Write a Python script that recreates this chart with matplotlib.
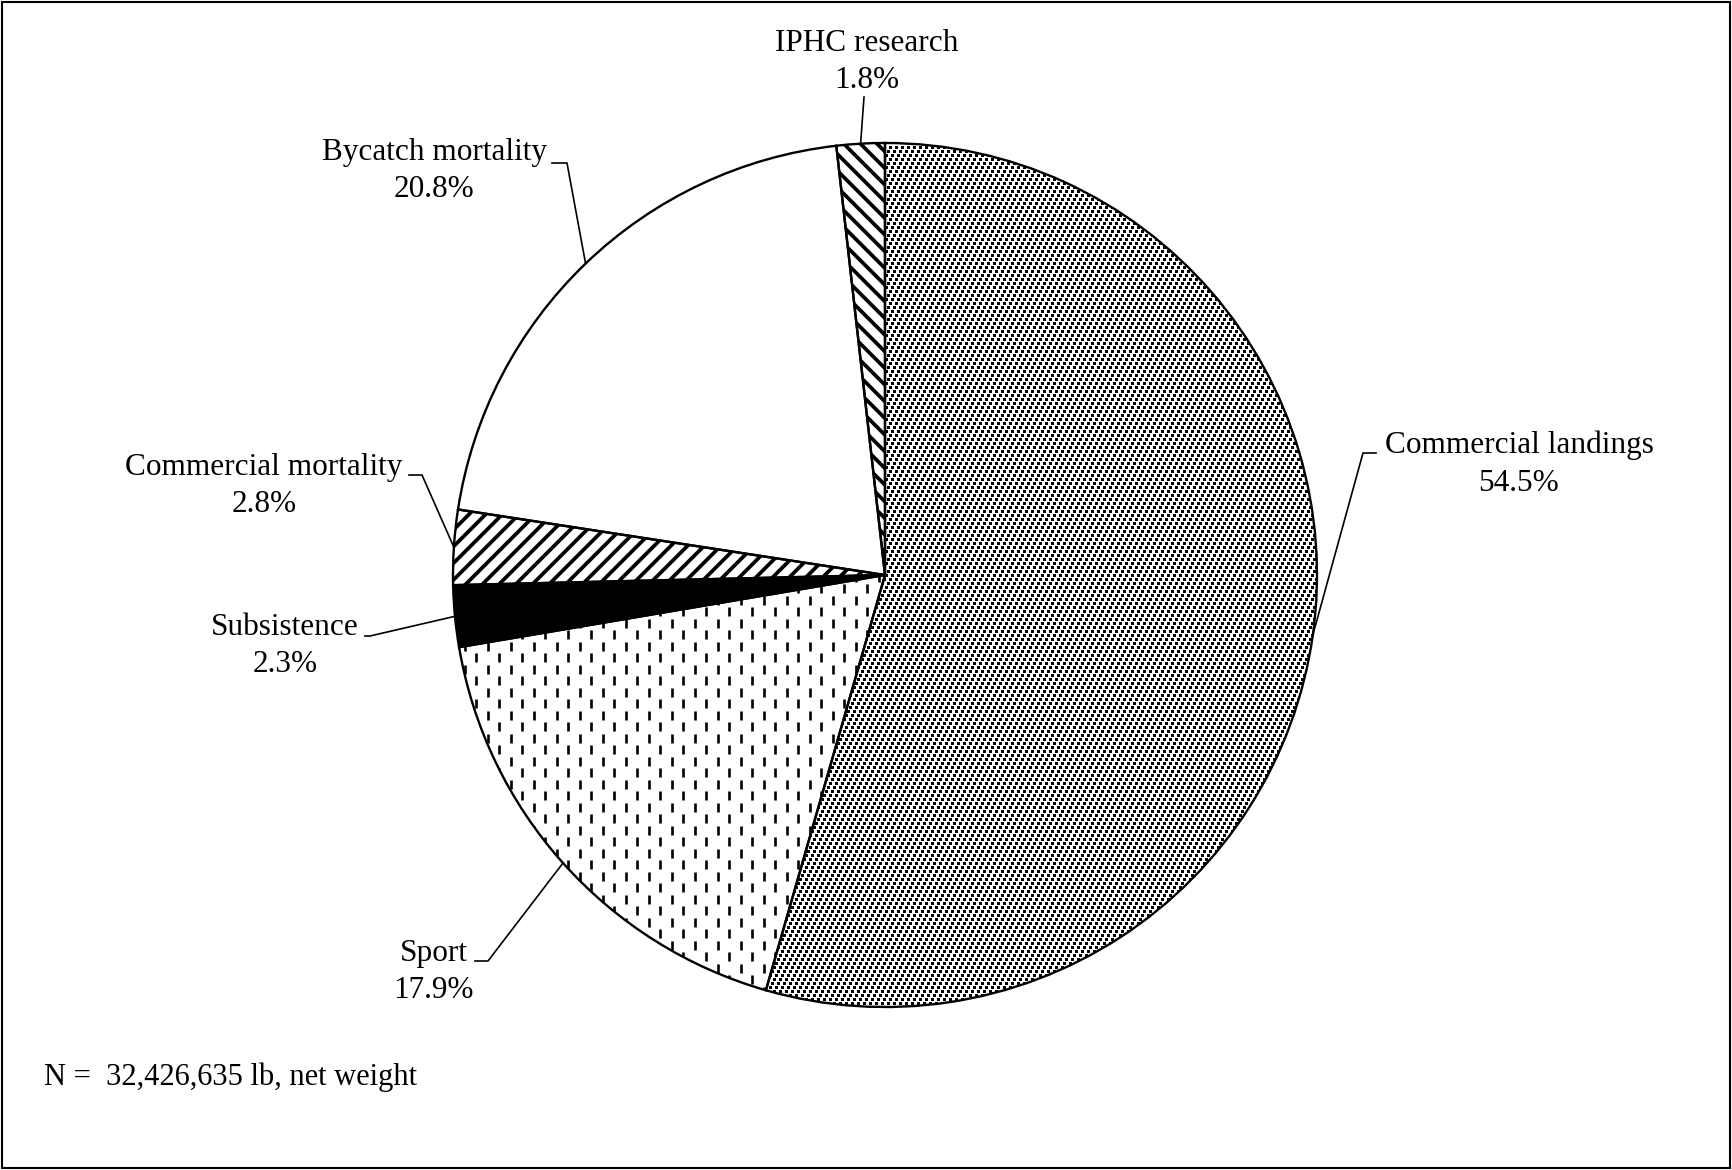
import numpy as np
import matplotlib
matplotlib.use("Agg")
import matplotlib.pyplot as plt
from matplotlib.patches import Rectangle
from matplotlib.collections import LineCollection

# slices, clockwise from 12 o'clock
labels = ["Commercial landings", "Sport", "Subsistence",
          "Commercial mortality", "Bycatch mortality", "IPHC research"]
shares = [54.5, 17.9, 2.3, 2.8, 20.8, 1.8]
pct_text = ["54.5%", "17.9%", "2.3%", "2.8%", "20.8%", "1.8%"]
note = "N =  32,426,635 lb, net weight"

plt.rcParams['font.family'] = ['Liberation Serif', 'DejaVu Serif']
plt.rcParams['hatch.linewidth'] = 2.7

W, H = 1732, 1170
fig = plt.figure(figsize=(W / 100, H / 100), dpi=100)
ax = fig.add_axes([0, 0, 1, 1])

cx, cy, r = 885, H - 575, 432   # pie centre / radius in pixels

faces = ["white", "white", "black", "white", "white", "white"]
hatches = [None, None, None, "//", None, "\\\\"]
wedges, _ = ax.pie(shares, startangle=90, counterclock=False, center=(cx, cy),
                   radius=r, colors=faces, frame=True,
                   wedgeprops=dict(edgecolor="black", linewidth=0, zorder=1))
for w, h in zip(wedges, hatches):
    if h:
        w.set_hatch(h)
        w.set_edgecolor("black")
        w.set_linewidth(0)

# dotted texture for commercial landings (pixel aligned grid)
xs, ys = [], []
for j, y in enumerate(np.arange(cy - r, cy + r, 4)):
    off = (j % 3) * 2
    for x in np.arange(cx - r + off, cx + r, 6):
        xs.append(x + 0.5)
        ys.append(y + 0.5)
dots = ax.scatter(xs, ys, s=(3.0 * 0.72) ** 2, marker='s', c='black',
                  linewidths=0, zorder=2)
dots.set_clip_path(wedges[0])

# dashed texture for sport
segs = []
for j, y in enumerate(np.arange(cy - r, cy + r, 11.5)):
    off = (j % 2) * 11.5
    for x in np.arange(cx - r + off, cx + r, 23.0):
        segs.append([(x, y), (x, y + 9)])
dash = LineCollection(segs, colors='black', linewidths=1.9, zorder=2)
ax.add_collection(dash)
dash.set_clip_path(wedges[1])

# outlines on top
ax.pie(shares, startangle=90, counterclock=False, center=(cx, cy),
       radius=r, frame=True,
       wedgeprops=dict(fill=False, edgecolor="black", linewidth=1.7, zorder=3))
ax.set_xlim(0, W)
ax.set_ylim(0, H)
ax.set_aspect('equal')
ax.axis('off')

# label centres and leader elbows, in pixels from top
lab_pos = [(1519, 464), (434, 972), (285, 646), (264, 486), (434, 171), (867, 62)]
elbows = [[(1376, 453), (1363, 453)],
          [(475, 961), (488, 961)],
          [(365, 636), (370, 636)],
          [(409, 475), (422, 475)],
          [(552, 163), (567, 163)],
          [(864, 97)]]

for w, name, pt, (tx, ty), el in zip(wedges, labels, pct_text, lab_pos, elbows):
    mid = np.deg2rad((w.theta1 + w.theta2) / 2)
    ex, ey = cx + r * np.cos(mid), cy + r * np.sin(mid)
    px = [p[0] for p in el] + [ex]
    py = [H - p[1] for p in el] + [ey]
    ax.plot(px, py, color='black', lw=1.2, zorder=4)
    ax.text(tx, H - ty, name + "\n" + pt, ha='center', va='center',
            multialignment='center', fontsize=22.5, linespacing=1.4, zorder=5)

ax.text(44, H - 1077, note, ha='left', va='center', fontsize=22)

fig.patches.append(Rectangle((2 / W, 2 / H), (W - 4) / W, (H - 4) / H,
                             transform=fig.transFigure, fill=False,
                             edgecolor='black', linewidth=1.5))

fig.savefig("out.png", dpi=100)
